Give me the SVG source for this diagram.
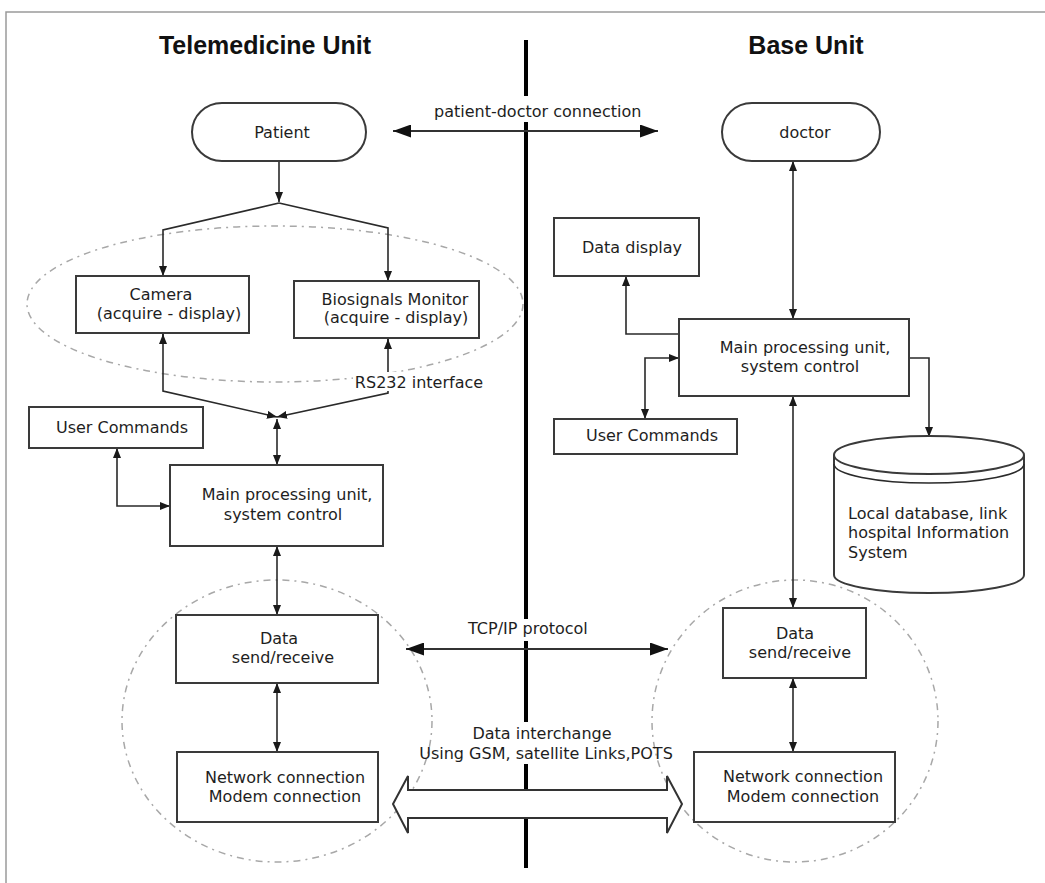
<svg xmlns="http://www.w3.org/2000/svg" width="1045" height="883" viewBox="0 0 1045 883">
<style>
.bg{fill:#fff}
.frame{stroke:#9a9a9a;stroke-width:1.5;fill:none}
.divider{stroke:#000;stroke-width:4;fill:none}
.box{fill:#fff;stroke:#3a3a3a;stroke-width:2}
.t{font-family:"DejaVu Sans",Verdana,sans-serif;font-size:16px;fill:#1e1e1e;text-anchor:middle}
.tl{font-family:"DejaVu Sans",Verdana,sans-serif;font-size:16px;fill:#1e1e1e}
.title{font-family:"Liberation Sans",Arial,sans-serif;font-size:25px;font-weight:bold;fill:#111;text-anchor:middle}
.c{stroke:#2a2a2a;stroke-width:1.6;fill:none}
.cd{stroke:#2a2a2a;stroke-width:1.6;fill:none;marker-end:url(#ah)}
.cb{stroke:#2a2a2a;stroke-width:1.6;fill:none;marker-start:url(#ah);marker-end:url(#ah)}
.big{stroke:#333;stroke-width:2.2;fill:none;marker-start:url(#bh);marker-end:url(#bh)}
.dash{stroke:#a8a8a8;stroke-width:1.5;fill:none;stroke-dasharray:7 5 2 5}
.hollow{fill:#fff;stroke:#333;stroke-width:2}
.mask{fill:#fff}
</style>
<defs>
<marker id="ah" markerUnits="userSpaceOnUse" markerWidth="10" markerHeight="8" refX="10" refY="4" orient="auto-start-reverse" viewBox="0 0 10 8">
<path d="M0,0 L10,4 L0,8 z" fill="#1a1a1a"/>
</marker>
<marker id="bh" markerUnits="userSpaceOnUse" markerWidth="18" markerHeight="13" refX="18" refY="6.5" orient="auto-start-reverse" viewBox="0 0 18 13">
<path d="M0,0 L18,6.5 L0,13 z" fill="#111"/>
</marker>
</defs>
<rect class="bg" x="0" y="0" width="1045" height="883"/>
<path class="frame" d="M6,883 L6,12 L1045,12"/>

<g id="titles">
<text class="title" x="265" y="54">Telemedicine Unit</text>
<text class="title" x="806" y="54">Base Unit</text>
</g>

<g id="divider">
<path class="divider" d="M526,40 L526,96 M526,122 L526,619 M526,641 L526,722 M526,764 L526,868"/>
</g>

<g id="zones">
<ellipse class="dash" cx="275" cy="304" rx="248" ry="78"/>
<ellipse class="dash" cx="277" cy="721" rx="155" ry="141"/>
<ellipse class="dash" cx="795" cy="721" rx="143" ry="141"/>
</g>

<g id="connectors">
<line class="big" x1="393" y1="131" x2="658" y2="131"/>
<line class="big" x1="406" y1="649" x2="668" y2="649"/>
<line class="cd" x1="279" y1="161" x2="279" y2="202"/>
<polyline class="cd" points="279,203 163,230 163,276"/>
<polyline class="cd" points="279,203 388,228 388,281"/>
<polyline class="cd" points="163,334 163,391 277,417"/>
<polyline class="cd" points="388,339 388,393 277,417"/>
<line class="c" x1="163" y1="334" x2="163" y2="344" marker-start="url(#ah)"/>
<line class="c" x1="388" y1="339" x2="388" y2="349" marker-start="url(#ah)"/>
<line class="cb" x1="277" y1="419" x2="277" y2="465"/>
<polyline class="cb" points="117,448 117,506 170,506"/>
<line class="cb" x1="277" y1="546" x2="277" y2="615"/>
<line class="cb" x1="277" y1="683" x2="277" y2="752"/>
<line class="cb" x1="793" y1="161" x2="793" y2="319"/>
<polyline class="c" points="626,276 626,334 679,334" marker-start="url(#ah)"/>
<polyline class="cb" points="679,358 645,358 645,419"/>
<polyline class="cd" points="909,358 929,358 929,437"/>
<line class="cb" x1="793" y1="396" x2="793" y2="608"/>
<line class="cb" x1="793" y1="678" x2="793" y2="752"/>
<polygon class="hollow" points="393,804 408,776 408,790 667,790 667,776 682,804 667,833 667,818 408,818 408,833"/>
</g>

<g id="labels">
<rect class="mask" x="430" y="98" width="216" height="23"/>
<text class="tl" x="434" y="117">patient-doctor connection</text>
<text class="tl" x="468" y="634">TCP/IP protocol</text>
<text class="t" x="542" y="739">Data interchange</text>
<text class="t" x="546" y="759">Using GSM, satellite Links,POTS</text>
<rect class="mask" x="353" y="372" width="132" height="19"/>
<text class="t" x="419" y="388">RS232 interface</text>
</g>

<g id="patient">
<rect class="box" x="192" y="103" width="174" height="58" rx="30" ry="29"/>
<text class="t" x="282" y="138">Patient</text>
</g>
<g id="doctor">
<rect class="box" x="722" y="103" width="158" height="58" rx="30" ry="29"/>
<text class="t" x="805" y="138">doctor</text>
</g>
<g id="camera">
<rect class="box" x="76" y="276" width="173" height="57"/>
<text class="t" x="161" y="300">Camera</text>
<text class="t" x="169" y="319">(acquire - display)</text>
</g>
<g id="biosignals">
<rect class="box" x="294" y="281" width="185" height="57"/>
<text class="t" x="395" y="305">Biosignals Monitor</text>
<text class="t" x="396" y="323">(acquire - display)</text>
</g>
<g id="user-commands-left">
<rect class="box" x="29" y="407" width="174" height="41"/>
<text class="t" x="122" y="433">User Commands</text>
</g>
<g id="main-left">
<rect class="box" x="170" y="465" width="213" height="81"/>
<text class="t" x="287" y="500">Main processing unit,</text>
<text class="t" x="283" y="520">system control</text>
</g>
<g id="data-left">
<rect class="box" x="176" y="615" width="202" height="68"/>
<text class="t" x="279" y="644">Data</text>
<text class="t" x="283" y="663">send/receive</text>
</g>
<g id="network-left">
<rect class="box" x="177" y="752" width="201" height="70"/>
<text class="t" x="285" y="783">Network connection</text>
<text class="t" x="285" y="802">Modem connection</text>
</g>
<g id="data-display">
<rect class="box" x="554" y="218" width="145" height="58"/>
<text class="t" x="632" y="253">Data display</text>
</g>
<g id="main-right">
<rect class="box" x="679" y="319" width="230" height="77"/>
<text class="t" x="805" y="353">Main processing unit,</text>
<text class="t" x="800" y="372">system control</text>
</g>
<g id="user-commands-right">
<rect class="box" x="554" y="419" width="183" height="35"/>
<text class="t" x="652" y="441">User Commands</text>
</g>
<g id="database">
<path class="box" d="M834,455 L834,575 A95,18 0 0 0 1024,575 L1024,455"/>
<ellipse class="box" cx="929" cy="455" rx="95" ry="19"/>
<path class="c" d="M834,464 A95,19 0 0 0 1024,464" stroke-width="2"/>
<text class="tl" x="848" y="519">Local database, link</text>
<text class="tl" x="848" y="538">hospital Information</text>
<text class="tl" x="848" y="558">System</text>
</g>
<g id="data-right">
<rect class="box" x="723" y="608" width="143" height="70"/>
<text class="t" x="795" y="639">Data</text>
<text class="t" x="800" y="658">send/receive</text>
</g>
<g id="network-right">
<rect class="box" x="694" y="752" width="201" height="70"/>
<text class="t" x="803" y="782">Network connection</text>
<text class="t" x="803" y="802">Modem connection</text>
</g>
</svg>
